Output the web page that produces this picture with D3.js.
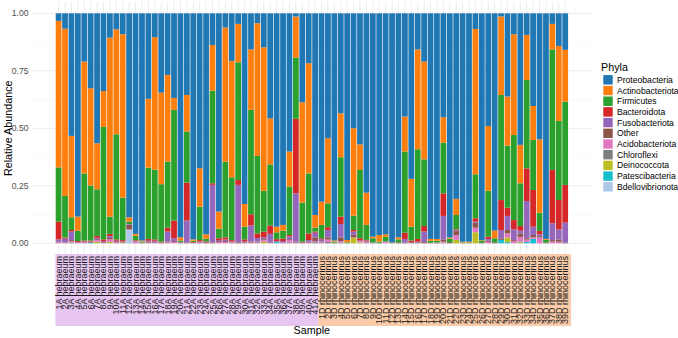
<!DOCTYPE html>
<html>
<head>
<meta charset="utf-8">
<script src="https://cdn.jsdelivr.net/npm/d3@7"></script>
<style>
  body { margin: 0; background: #fff; }
  svg { display: block; font-family: 'Liberation Sans', Arial, sans-serif; }
</style>
</head>
<body>
<div id="container"></div>
<script>
// sample groups (tick labels are "<n>A hebraeum" / "<n>D rhinocerinus")
const hebraeumCount = 41;
const rhinocerinusCount = 39;

const phyla = [
  'Proteobacteria', 'Actinobacteriota', 'Firmicutes', 'Bacteroidota', 'Fusobacteriota',
  'Other', 'Acidobacteriota', 'Chloroflexi', 'Deinococcota', 'Patescibacteria', 'Bdellovibrionota',
];
const phylaColors = [
  '#1f77b4', '#ff7f0e', '#2ca02c', '#d62728', '#9467bd',
  '#8c564b', '#e377c2', '#7f7f7f', '#bcbd22', '#17becf', '#aec7e8',
];

const proteobacteria = [.033,.067,.533,.884,.210,.326,.565,.338,.106,.070, .091,.887,.959,.988,.372,.104,.345,.268,.368,.974,
  .355,.983,.674,.961,.138,.862,.062,.207,.046,.829, .157,.043,.148,.457,.928,.920,.601,.014,.387,.217,
  .877,.819,.543,.988,.435,.986,.500,.570,.780,.971, .964,.961,.996,.974,.449,.720,.157,.210,.981,.981,
  .452,.975,.807,.993,.993,.068,.986,.490,.945,.014, .362,.091,.572,.094,.403,.548,.981,.046,.142,.159];
const actinobacteriota = [.637,.727,.354,.061,.486,.423,.200,.156,.778,.456, .710,.019,.008,.004,.299,.576,.398,.377,.052,.014,
  .159,.006,.167,.019,.198,.074,.583,.506,.167,.099, .263,.577,.624,.200,.024,.025,.153,.179,.436,.479,
  .055,.101,.283,.005,.191,.010,.380,.111,.140,.007, .029,.011,.002,.009,.152,.208,.434,.425,.008,.008,
  .110,.005,.070,.003,.004,.632,.002,.282,.033,.341, .213,.438,.167,.196,.148,.319,.004,.111,.326,.225];
const firmicutes = [.236,.181,.055,.045,.292,.239,.203,.489,.075,.457, .185,.010,.020,.004,.310,.303,.250,.287,.481,.006,
  .222,.005,.145,.012,.403,.042,.329,.273,.512,.055, .454,.337,.177,.266,.030,.035,.210,.266,.170,.261,
  .017,.058,.104,.004,.258,.004,.062,.297,.065,.018, .005,.020,.002,.013,.353,.060,.390,.290,.008,.007,
  .221,.015,.062,.002,.003,.191,.010,.199,.018,.457, .270,.370,.186,.384,.217,.079,.012,.524,.344,.362];
const bacteroidota = [.077,.005,.007,.004,.004,.004,.008,.008,.010,.006, .005,0,.003,0,.008,.006,.003,.017,.077,0,
  .165,.003,.006,.005,.007,.008,.010,.006,.021,.008, .048,.020,.025,.036,.008,.010,.006,.324,.003,.029,
  .005,.004,.012,0,.032,0,.007,.010,.003,0, 0,0,0,0,.027,.008,.012,.024,0,0,
  .098,0,.004,0,0,.015,0,.010,0,.130, .036,.040,.020,.142,.160,.015,0,.232,.127,.164];
const fusobacteriota = [.010,.015,.037,.002,.003,.003,.006,.004,.008,.005, .004,.003,.002,.002,.005,.005,.002,.044,.012,.003,
  .096,.002,.004,.002,.250,.004,.006,.004,.250,.004, .071,.015,.008,.035,.003,.005,.012,.210,.002,.008,
  .020,.010,.032,0,.058,0,.014,.003,.004,.002, 0,.003,0,0,.016,.002,.004,.046,0,.002,
  .102,0,.004,0,0,.005,0,.008,0,.039, .061,.047,.012,.162,.036,.008,0,.073,.044,.087];
const other = [.002,.002,.005,.002,.002,.003,.004,.003,.005,.002, .002,.020,.002,.002,.003,.003,.002,.003,.004,.003,
  .003,.001,.002,.001,.004,.004,.004,.002,.004,.003, .004,.004,.004,.003,.002,.002,.004,.004,.002,.003,
  .016,.004,.010,.003,.016,0,.011,0,.003,.002, .002,0,0,.004,.003,.002,.003,.005,.003,.002,
  .010,.005,.018,.002,0,.021,.002,.005,.004,.004, .015,.004,.015,.006,.010,.006,.003,.006,.010,.003];
const acidobacteriota = [.005,.003,.006,.002,.003,0,.008,.002,.012,.004, 0,.003,.006,0,.003,.003,0,.004,.006,0,
  0,0,.002,0,0,.006,.006,.002,0,.002, .003,.004,.008,.003,0,.003,.010,.003,0,.003,
  .005,.004,.010,0,.006,0,.003,.005,.005,0, 0,.005,0,0,0,0,0,0,0,0,
  .004,0,.020,0,0,.020,0,.006,0,0, .018,.010,.020,.010,.007,.025,0,.008,.007,0];
const chloroflexi = [0,0,.003,0,0,0,0,0,0,0, 0,0,0,0,0,0,0,0,0,0,
  0,0,0,0,0,0,0,0,0,0, 0,0,0,0,0,0,.004,0,0,0,
  .005,0,.006,0,.004,0,0,0,0,0, 0,0,0,0,0,0,0,0,0,0,
  .003,0,0,0,0,0,0,0,0,0, 0,0,.004,0,0,0,0,0,0,0];
const deinococcota = [0,0,0,0,0,0,.006,0,.006,0, .003,0,0,0,0,0,0,0,0,0,
  0,0,0,0,0,0,0,0,0,0, 0,0,.006,0,0,0,0,0,0,0,
  0,0,0,0,0,0,.023,.004,0,0, 0,0,0,0,0,0,0,0,0,0,
  0,0,.015,0,0,.048,0,0,0,0, .020,0,.004,0,0,0,0,0,0,0];
const patescibacteria = [0,0,0,0,0,.002,0,0,0,0, 0,0,0,0,0,0,0,0,0,0,
  0,0,0,0,0,0,0,0,0,0, 0,0,0,0,.005,0,0,0,0,0,
  0,0,0,0,0,0,0,0,0,0, 0,0,0,0,0,0,0,0,0,0,
  0,0,0,0,0,0,0,0,0,.015, .005,0,0,.006,.019,0,0,0,0,0];
const bdellovibrionota = [0,0,0,0,0,0,0,0,0,0, 0,.058,0,0,0,0,0,0,0,0,
  0,0,0,0,0,0,0,0,0,0, 0,0,0,0,0,0,0,0,0,0,
  0,0,0,0,0,0,0,0,0,0, 0,0,0,0,0,0,0,0,0,0,
  0,0,0,0,0,0,0,0,0,0, 0,0,0,0,0,0,0,0,0,0];

const yTicks = [0, 0.25, 0.5, 0.75, 1];
const yMinor = [0.125, 0.375, 0.625, 0.875];

const series = [proteobacteria, actinobacteriota, firmicutes, bacteroidota, fusobacteriota,
  other, acidobacteriota, chloroflexi, deinococcota, patescibacteria, bdellovibrionota];

const hebraeum = d3.range(1, hebraeumCount + 1).map(i => `${i}A hebraeum`);
const rhinocerinus = d3.range(1, rhinocerinusCount + 1).map(i => `${i}D rhinocerinus`);
const samples = hebraeum.concat(rhinocerinus);

const rows = samples.map((s, i) => {
  const row = { sample: s };
  phyla.forEach((p, j) => { row[p] = series[j][i]; });
  return row;
});

const width = 678;
const height = 338;
const panel = { left: 32, right: 591.7, top: 1.8, bottom: 254.8 };

const svg = d3.select('#container').append('svg')
  .attr('width', width).attr('height', height);

const x = d3.scaleBand().domain(samples).range([55.4, 568.4])
  .paddingInner(0.1).paddingOuter(0.05);
const y = d3.scaleLinear().domain([0, 1]).range([243.3, 13.3]);
const color = d3.scaleOrdinal().domain(phyla).range(phylaColors);

// grid
svg.append('g').selectAll('line').data(yMinor).join('line')
  .attr('x1', panel.left).attr('x2', panel.right)
  .attr('y1', d => y(d)).attr('y2', d => y(d))
  .attr('stroke', '#f0f0f0').attr('stroke-width', 0.5);
svg.append('g').selectAll('line').data(yTicks).join('line')
  .attr('x1', panel.left).attr('x2', panel.right)
  .attr('y1', d => y(d)).attr('y2', d => y(d))
  .attr('stroke', '#ebebeb').attr('stroke-width', 0.9);
svg.append('g').selectAll('line').data(samples).join('line')
  .attr('x1', d => x(d) + x.bandwidth() / 2).attr('x2', d => x(d) + x.bandwidth() / 2)
  .attr('y1', panel.top).attr('y2', panel.bottom)
  .attr('stroke', '#ebebeb').attr('stroke-width', 0.9);

// bars, first phylum on top
const stack = d3.stack().keys(phyla.slice().reverse());
svg.append('g').selectAll('g').data(stack(rows)).join('g')
  .attr('fill', d => color(d.key))
  .selectAll('rect').data(d => d).join('rect')
  .attr('x', d => x(d.data.sample))
  .attr('width', x.bandwidth())
  .attr('y', d => y(d[1]))
  .attr('height', d => y(d[0]) - y(d[1]));

// y axis
svg.append('g').selectAll('text').data(yTicks).join('text')
  .attr('x', 28.5).attr('y', d => y(d))
  .attr('text-anchor', 'end').attr('dominant-baseline', 'central')
  .attr('font-size', '8.6px').attr('fill', '#4d4d4d')
  .text(d => d3.format('.2f')(d));

svg.append('text')
  .attr('transform', `translate(8,${(panel.top + panel.bottom) / 2}) rotate(-90)`)
  .attr('text-anchor', 'middle').attr('dominant-baseline', 'central')
  .attr('font-size', '10.75px').attr('fill', '#000')
  .text('Relative Abundance');

// coloured label strips
const gap = (x.step() - x.bandwidth()) / 2;
const split = x(rhinocerinus[0]) - gap;
svg.append('rect').attr('x', x(samples[0]) - gap).attr('y', 254)
  .attr('width', split - x(samples[0]) + gap).attr('height', 72)
  .attr('fill', '#e6c5f0');
svg.append('rect').attr('x', split).attr('y', 254)
  .attr('width', x(samples[samples.length - 1]) + x.bandwidth() + 3 - split).attr('height', 72)
  .attr('fill', '#f9cba8');

svg.append('g').selectAll('text').data(samples).join('text')
  .attr('transform', d => `translate(${x(d) + x.bandwidth() / 2},256) rotate(-90)`)
  .attr('text-anchor', 'end').attr('dominant-baseline', 'central')
  .attr('font-size', '9px').attr('fill', '#1a1a1a')
  .text(d => d);

svg.append('text')
  .attr('x', (panel.left + panel.right) / 2).attr('y', 334)
  .attr('text-anchor', 'middle')
  .attr('font-size', '10.75px').attr('fill', '#000')
  .text('Sample');

// legend
const legend = svg.append('g').attr('transform', 'translate(601,0)');
legend.append('text').attr('x', 0).attr('y', 67)
  .attr('dominant-baseline', 'central').attr('font-size', '10.75px')
  .text('Phyla');
const item = legend.selectAll('g').data(phyla).join('g')
  .attr('transform', (d, i) => `translate(0,${79.8 + i * 10.7})`);
item.append('rect').attr('x', 2.3).attr('y', -4.7)
  .attr('width', 9.4).attr('height', 9.4)
  .attr('fill', d => color(d));
item.append('text').attr('x', 16).attr('y', 0)
  .attr('dominant-baseline', 'central').attr('font-size', '8.6px')
  .text(d => d);
</script>
</body>
</html>
